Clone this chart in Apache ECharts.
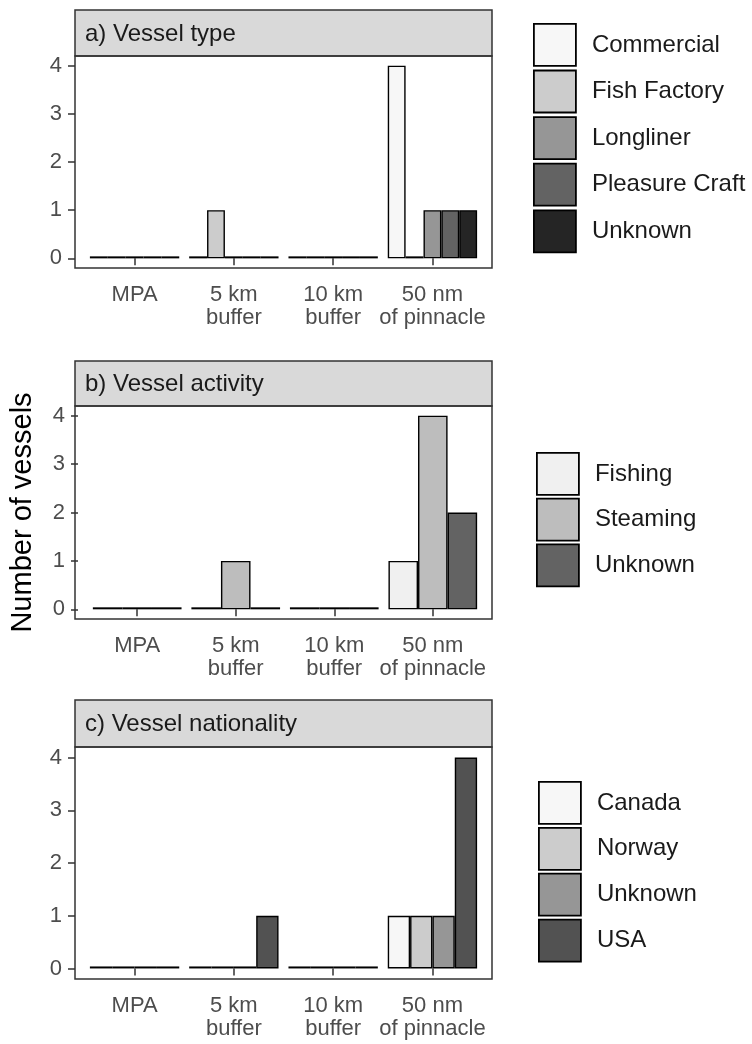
<!DOCTYPE html>
<html>
<head>
<meta charset="utf-8">
<script src="https://cdn.jsdelivr.net/npm/echarts@6/dist/echarts.min.js"></script>
<style>
  html, body { margin: 0; padding: 0; background: #fff; }
  #main { width: 752px; height: 1044px; }
</style>
</head>
<body>
<div id="main"></div>
<script>
// categories (x axis)
var sites = ['MPA', '5 km\nbuffer', '10 km\nbuffer', '50 nm\nof pinnacle'];
var yTicks = [0, 1, 2, 3, 4];

// a) vessel type
var typeNames = ['Commercial', 'Fish Factory', 'Longliner', 'Pleasure Craft', 'Unknown'];
var commercial = [0, 0, 0, 4];
var fishFactory = [0, 1, 0, 0];
var longliner = [0, 0, 0, 1];
var pleasureCraft = [0, 0, 0, 1];
var unknownType = [0, 0, 0, 1];
var typeColors = ['#F7F7F7', '#CCCCCC', '#969696', '#636363', '#252525'];

// b) vessel activity
var activityNames = ['Fishing', 'Steaming', 'Unknown'];
var fishing = [0, 0, 0, 1];
var steaming = [0, 1, 0, 4];
var unknownActivity = [0, 0, 0, 2];
var activityColors = ['#F0F0F0', '#BDBDBD', '#636363'];

// c) vessel nationality
var nationNames = ['Canada', 'Norway', 'Unknown', 'USA'];
var canada = [0, 0, 0, 1];
var norway = [0, 0, 0, 1];
var unknownNation = [0, 0, 0, 1];
var usa = [0, 1, 0, 4];
var nationColors = ['#F7F7F7', '#CCCCCC', '#969696', '#525252'];

var panels = [
  { key: 'a', title: 'a) Vessel type', names: typeNames, colors: typeColors,
    values: [commercial, fishFactory, longliner, pleasureCraft, unknownType],
    top: 56, height: 212, stripTop: 10, legendLeft: 533, legendTop: 23, legendGap: 2.8 },
  { key: 'b', title: 'b) Vessel activity', names: activityNames, colors: activityColors,
    values: [fishing, steaming, unknownActivity],
    top: 406, height: 213, stripTop: 361, legendLeft: 536, legendTop: 452, legendGap: 1.9 },
  { key: 'c', title: 'c) Vessel nationality', names: nationNames, colors: nationColors,
    values: [canada, norway, unknownNation, usa],
    top: 747, height: 232, stripTop: 700, legendLeft: 538, legendTop: 781, legendGap: 2.1 }
];

var font = 'Liberation Sans, Arial, sans-serif';
var frameLeft = 75, frameWidth = 417;
var unit = frameWidth / 4.2; // ggplot discrete expansion of 0.6 on each side

var grids = [], xAxes = [], yAxes = [], series = [], legends = [], graphics = [];

panels.forEach(function (p, i) {
  grids.push({
    left: frameLeft + 0.1 * unit,
    top: p.top,
    width: 4 * unit,
    height: p.height,
    containLabel: false
  });
  xAxes.push({
    type: 'category',
    gridIndex: i,
    data: sites,
    axisLine: { show: false },
    axisTick: { show: true, alignWithLabel: true, length: 7, lineStyle: { color: '#333', width: 1.5 } },
    axisLabel: {
      interval: 0, margin: 15, color: '#4D4D4D', fontSize: 22, lineHeight: 23,
      fontFamily: font, align: 'center'
    }
  });
  yAxes.push({
    type: 'value',
    gridIndex: i,
    min: -0.2,
    max: 4.2,
    offset: 0.1 * unit,
    splitLine: { show: false },
    axisLine: { show: false },
    axisTick: { show: true, customValues: yTicks, length: 7, lineStyle: { color: '#333', width: 1.5 } },
    axisLabel: {
      customValues: yTicks, margin: 13, color: '#4D4D4D', fontSize: 22, fontFamily: font
    },
    name: i === 1 ? 'Number of vessels' : '',
    nameLocation: 'middle',
    nameGap: 41,
    nameTextStyle: { fontSize: 29, color: '#000', fontFamily: font }
  });
  p.names.forEach(function (n, j) {
    series.push({
      type: 'bar',
      name: p.key + ':' + n,
      xAxisIndex: i,
      yAxisIndex: i,
      data: p.values[j],
      barGap: '0%',
      barCategoryGap: '10%',
      barMinHeight: 2,
      itemStyle: { color: p.colors[j], borderColor: '#000', borderWidth: 1.4 },
      emphasis: { disabled: true },
      animation: false
    });
  });
  legends.push({
    orient: 'vertical',
    left: p.legendLeft,
    top: p.legendTop,
    padding: 0,
    icon: 'rect',
    itemWidth: 42,
    itemHeight: 42,
    itemGap: p.legendGap,
    selectedMode: false,
    data: p.names.map(function (n) { return p.key + ':' + n; }),
    formatter: function (name) { return name.slice(2); },
    itemStyle: { borderWidth: 1.8, borderColor: '#000' },
    textStyle: { fontSize: 24, color: '#1A1A1A', fontFamily: font, padding: [0, 0, 0, 11] }
  });
  // strip
  graphics.push({
    type: 'rect',
    shape: { x: frameLeft, y: p.stripTop, width: frameWidth, height: p.top - p.stripTop },
    style: { fill: '#D9D9D9', stroke: '#333', lineWidth: 1.5 },
    z: 10
  });
  graphics.push({
    type: 'text',
    x: frameLeft + 10,
    y: (p.stripTop + p.top) / 2 + 1,
    style: {
      text: p.title, fill: '#1A1A1A', fontSize: 24, verticalAlign: 'middle', fontFamily: font
    },
    z: 11
  });
  // panel border
  graphics.push({
    type: 'rect',
    shape: { x: frameLeft, y: p.top, width: frameWidth, height: p.height },
    style: { fill: null, stroke: '#333', lineWidth: 1.5 },
    z: 10
  });
});

var chart = echarts.init(document.getElementById('main'));
chart.setOption({
  backgroundColor: '#fff',
  animation: false,
  grid: grids,
  xAxis: xAxes,
  yAxis: yAxes,
  legend: legends,
  series: series,
  graphic: graphics
});
</script>
</body>
</html>
